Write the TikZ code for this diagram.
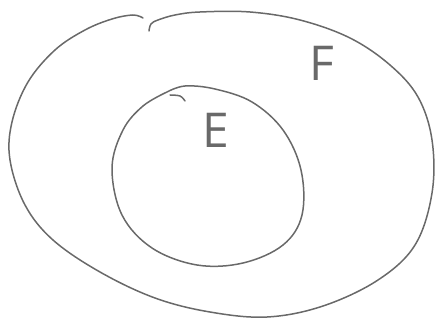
\documentclass[tikz,border=0pt]{standalone}
\usepackage{fontspec}
\setsansfont{Open Sans}
\definecolor{pencil}{RGB}{105,105,105}
\begin{document}
\begin{tikzpicture}[x=1pt,y=-1pt,
  stroke/.style={draw=pencil,line width=1.5pt,line cap=round,line join=round},
  letter/.style={text=pencil,inner sep=0pt,font=\sffamily\fontsize{48}{48}\selectfont}]
\useasboundingbox (0,0) rectangle (435,323);
% outer set F
\draw[stroke] plot[smooth,tension=0.6] coordinates {(149,31) (151,24) (158,20) (175,15) (200,12) (250,12) (300,20) (350,38) (390,65) (418,97) (432,140) (432,193) (415,245) (378,280) (323,306) (267,317) (210,312) (155,298) (100,272) (53,240) (25,205) (10,160) (12,122) (28,82) (55,50) (85,30) (112,19) (133,15) (143,18)};
% inner set E
\draw[stroke] plot[smooth,tension=0.6] coordinates {(167,92) (185,86) (215,89) (252,102) (283,130) (301,170) (302,215) (283,245) (243,263) (197,265) (152,248) (122,215) (112,168) (123,130) (143,106) (167,92)};
\draw[stroke] plot[smooth,tension=0.6] coordinates {(170,95) (180,96) (185,101)};
\node[letter] (F) at (322,63) {F};
\node[letter] (E) at (216,130) {E};
\end{tikzpicture}
\end{document}
